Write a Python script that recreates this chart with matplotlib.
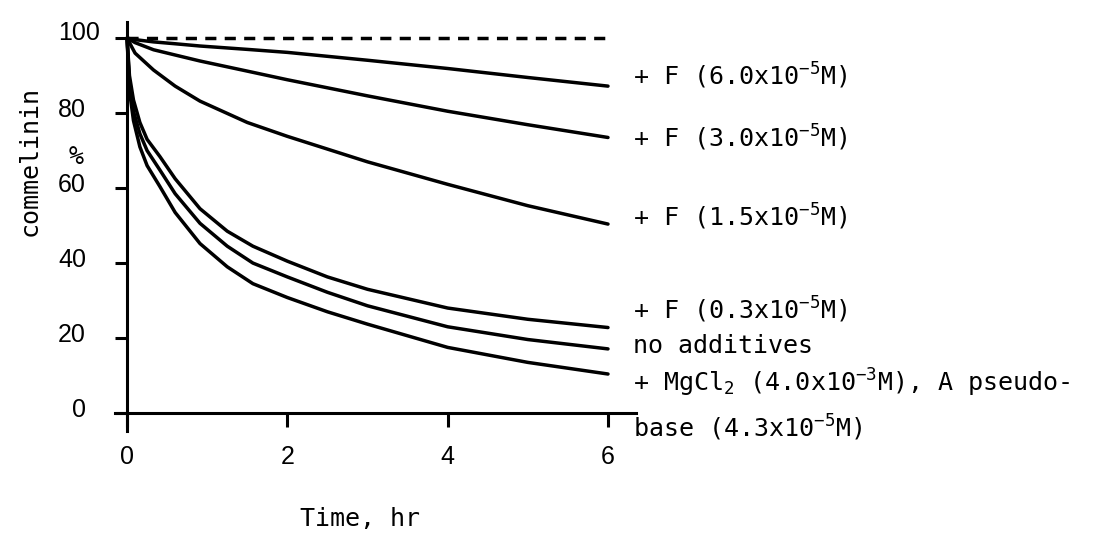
import matplotlib
matplotlib.use('Agg')
import matplotlib.pyplot as plt
import matplotlib.transforms as mtransforms

plt.rcParams['mathtext.fontset'] = 'custom'
plt.rcParams['mathtext.rm'] = 'DejaVu Sans Mono'
plt.rcParams['mathtext.it'] = 'DejaVu Sans Mono'
plt.rcParams['mathtext.bf'] = 'DejaVu Sans Mono'

# values (time in hr, commelinin in %)
t_upper = [0, 0.1, 0.33, 0.6, 0.91, 1.5, 2, 3, 4, 5, 6]
f_60 = [100, 99.6, 99.0, 98.5, 97.9, 97.0, 96.2, 94.1, 91.9, 89.5, 87.2]
f_30 = [100, 98.8, 96.9, 95.5, 93.9, 91.2, 88.9, 84.6, 80.5, 76.9, 73.5]
f_15 = [100, 96.0, 91.5, 87.2, 83.2, 77.5, 73.8, 67.0, 61.0, 55.3, 50.4]

t_lower = [0, 0.03, 0.08, 0.16, 0.25, 0.41, 0.6, 0.91, 1.25, 1.57, 2, 2.5, 3, 4, 5, 6]
f_03 = [100, 90, 83.5, 77.5, 73, 68.4, 62.5, 54.5, 48.5, 44.5, 40.5, 36.3, 33.0, 28.0, 25.0, 22.8]
no_add = [100, 88, 80.5, 74.5, 70, 64.8, 58.5, 50.6, 44.5, 40, 36.3, 32.2, 28.6, 23.0, 19.6, 17.1]
mgcl2 = [100, 86, 78, 71, 66, 60.4, 53.5, 45.2, 39, 34.5, 30.8, 27.0, 23.7, 17.5, 13.5, 10.4]

t_ctrl = [0, 6]
ctrl = [100, 100]

xticks = [0, 2, 4, 6]
yticks = [0, 20, 40, 60, 80, 100]

curve_labels = [r'+ F (6.0x10$^{-5}$M)',
                r'+ F (3.0x10$^{-5}$M)',
                r'+ F (1.5x10$^{-5}$M)',
                r'+ F (0.3x10$^{-5}$M)',
                'no additives',
                r'+ MgCl$_2$ (4.0x10$^{-3}$M), A pseudo-',
                r'base (4.3x10$^{-5}$M)']
label_y = [87.5, 70.9, 49.9, 25.1, 15.9, 5.6, -6.4]

fig = plt.figure(figsize=(11.19, 5.37), dpi=100)
ax = fig.add_axes([0.1028, 0.1974, 0.4656, 0.7616])
ax.set_xlim(-0.15, 6.35)
ax.set_ylim(-4.8, 104.3)

lw = 2.5
ax.plot(t_ctrl, ctrl, color='black', lw=lw, dashes=(3.2, 2.4))
for y in [f_60, f_30, f_15]:
    ax.plot(t_upper, y, color='black', lw=lw, solid_capstyle='round',
            solid_joinstyle='round')
for y in [f_03, no_add, mgcl2]:
    ax.plot(t_lower, y, color='black', lw=lw, solid_capstyle='round',
            solid_joinstyle='round')

for s in ['top', 'right']:
    ax.spines[s].set_visible(False)
for s in ['left', 'bottom']:
    ax.spines[s].set_position(('data', 0))
    ax.spines[s].set_linewidth(2.2)

ax.set_xticks(xticks)
ax.set_yticks(yticks)
ax.tick_params(axis='y', direction='out', length=8.6, width=2.2, pad=21, labelsize=18)
ax.tick_params(axis='x', direction='out', length=10, width=2.2, pad=13, labelsize=18)
for lab in ax.get_xticklabels() + ax.get_yticklabels():
    lab.set_fontfamily('Liberation Sans')

up = mtransforms.ScaledTranslation(0, 0.06, fig.dpi_scale_trans)
up_right = mtransforms.ScaledTranslation(0.14, 0.08, fig.dpi_scale_trans)
for v, lab in zip(yticks, ax.get_yticklabels()):
    lab.set_transform(lab.get_transform() + (up_right if v == 100 else up))

for txt, y in zip(curve_labels, label_y):
    ax.text(6.31, y, txt, fontsize=18, family='DejaVu Sans Mono',
            ha='left', va='baseline')

fig.text(30 / 1119, 1 - 161 / 537, 'commelinin', rotation=90, fontsize=18,
         family='DejaVu Sans Mono', ha='center', va='center')
fig.text(76 / 1119, 1 - 157 / 537, '%', fontsize=18,
         family='DejaVu Sans Mono', ha='center', va='center')
fig.text(360 / 1119, 1 - 519 / 537, 'Time, hr', fontsize=18,
         family='DejaVu Sans Mono', ha='center', va='center')

fig.savefig('out.png', dpi=100)
